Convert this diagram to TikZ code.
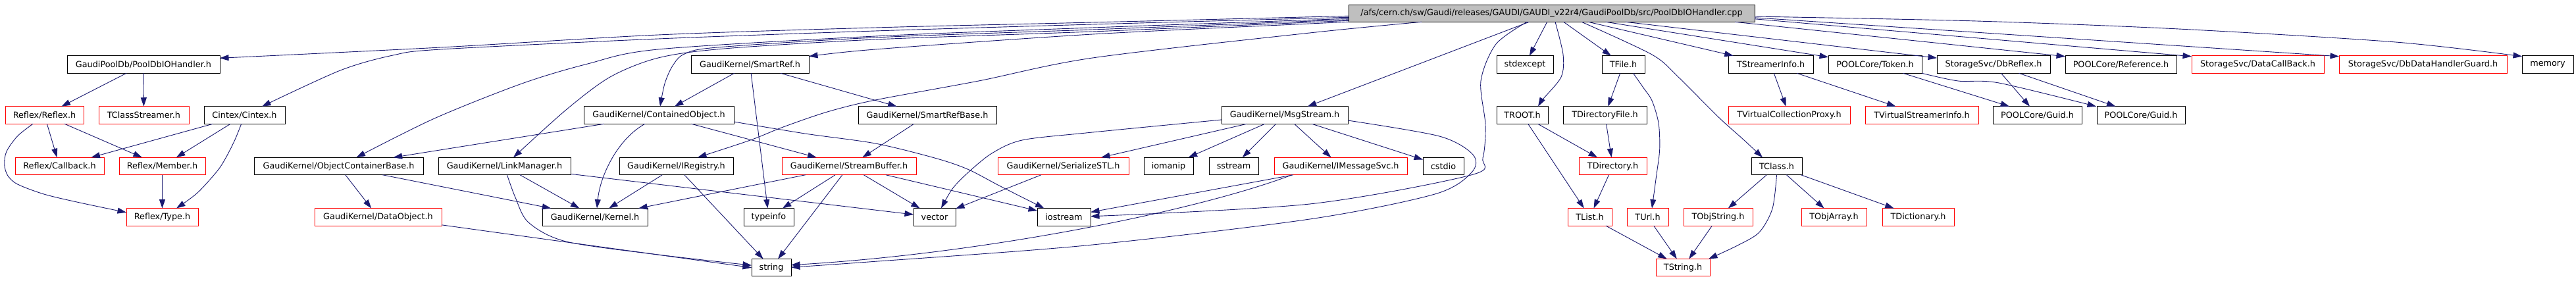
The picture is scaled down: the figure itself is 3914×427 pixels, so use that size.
\documentclass[tikz,border=0pt]{standalone}
\usepackage{fontspec}
\setmainfont{DejaVu Sans}
\usetikzlibrary{arrows.meta}
\definecolor{edgeblue}{HTML}{191970}
\definecolor{rootgray}{HTML}{BFBFBF}
\definecolor{missred}{HTML}{FF0000}
\tikzset{
  fbox/.style={draw=black, line width=1pt, fill=white, inner sep=0pt, outer sep=0pt,
    minimum height=26.5pt, font=\fontsize{12.8}{15}\selectfont, anchor=center},
  rbox/.style={fbox, draw=missred},
  rootbox/.style={fbox, fill=rootgray, minimum height=26pt},
  dep/.style={draw=edgeblue, line width=0.9pt, -{Triangle[length=13.5pt,width=9pt]}},
}
\begin{document}
\begin{tikzpicture}[x=1pt,y=-1pt]
\useasboundingbox (0,0) rectangle (3914,427);
% root
\node[rootbox, minimum width=617pt] (root) at (2357.5,20.3) {/afs/cern.ch/sw/Gaudi/releases/GAUDI/GAUDI\_v22r4/GaudiPoolDb/src/PoolDbIOHandler.cpp};
% row 1
\node[fbox, minimum width=232pt] (pdh) at (218,98) {GaudiPoolDb/PoolDbIOHandler.h};
\node[fbox, minimum width=179pt] (smartref) at (1139.5,98) {GaudiKernel/SmartRef.h};
\node[fbox, minimum width=86pt] (stdexcept) at (2317,98) {stdexcept};
\node[fbox, minimum width=65pt] (tfile) at (2466.5,98) {TFile.h};
\node[fbox, minimum width=129pt] (tsinfo) at (2690.5,98) {TStreamerInfo.h};
\node[fbox, minimum width=142pt] (token) at (2849,98) {POOLCore/Token.h};
\node[fbox, minimum width=172pt] (dbreflex) at (3029,98) {StorageSvc/DbReflex.h};
\node[fbox, minimum width=169pt] (reference) at (3222.5,98) {POOLCore/Reference.h};
\node[rbox, minimum width=201pt] (datacb) at (3430.5,98) {StorageSvc/DataCallBack.h};
\node[rbox, minimum width=255pt] (dbdhg) at (3681.5,98) {StorageSvc/DbDataHandlerGuard.h};
\node[fbox, minimum width=78pt] (memory) at (3871,98) {memory};
% row 2
\node[rbox, minimum width=119pt] (reflex) at (67.5,175) {Reflex/Reflex.h};
\node[rbox, minimum width=137pt] (tcs) at (218.5,175) {TClassStreamer.h};
\node[fbox, minimum width=123pt] (cintex) at (371.5,175) {Cintex/Cintex.h};
\node[fbox, minimum width=228pt] (contobj) at (1001,175) {GaudiKernel/ContainedObject.h};
\node[fbox, minimum width=210pt] (srb) at (1409,175) {GaudiKernel/SmartRefBase.h};
\node[fbox, minimum width=192pt] (msgstream) at (1952,175) {GaudiKernel/MsgStream.h};
\node[fbox, minimum width=78pt] (troot) at (2313,175) {TROOT.h};
\node[fbox, minimum width=127pt] (tdirfile) at (2438.5,175) {TDirectoryFile.h};
\node[rbox, minimum width=185pt] (tvcp) at (2718.5,175) {TVirtualCollectionProxy.h};
\node[rbox, minimum width=172pt] (tvsi) at (2920,175) {TVirtualStreamerInfo.h};
\node[fbox, minimum width=135pt] (guida) at (3095.5,175) {POOLCore/Guid.h};
\node[fbox, minimum width=134pt] (guidb) at (3253,175) {POOLCore/Guid.h};
% row 3
\node[rbox, minimum width=135pt] (callback) at (90.5,252.5) {Reflex/Callback.h};
\node[rbox, minimum width=131pt] (member) at (246.5,252.5) {Reflex/Member.h};
\node[fbox, minimum width=257pt] (ocb) at (514.5,252.5) {GaudiKernel/ObjectContainerBase.h};
\node[fbox, minimum width=201pt] (linkmgr) at (766.5,252.5) {GaudiKernel/LinkManager.h};
\node[fbox, minimum width=173pt] (iregistry) at (1027.5,252.5) {GaudiKernel/IRegistry.h};
\node[rbox, minimum width=204pt] (streambuf) at (1290,252.5) {GaudiKernel/StreamBuffer.h};
\node[rbox, minimum width=199pt] (serstl) at (1615.5,252.5) {GaudiKernel/SerializeSTL.h};
\node[fbox, minimum width=75pt] (iomanip) at (1775.5,252.5) {iomanip};
\node[fbox, minimum width=75pt] (sstream) at (1874.5,252.5) {sstream};
\node[rbox, minimum width=202pt] (imsgsvc) at (2037,252.5) {GaudiKernel/IMessageSvc.h};
\node[fbox, minimum width=62pt] (cstdio) at (2193,252.5) {cstdio};
\node[rbox, minimum width=103pt] (tdirectory) at (2450.5,252.5) {TDirectory.h};
\node[fbox, minimum width=77pt] (tclass) at (2699.5,252.5) {TClass.h};
% row 4
\node[rbox, minimum width=109pt] (type) at (246.5,329.8) {Reflex/Type.h};
\node[rbox, minimum width=193pt] (dataobj) at (574.5,329.8) {GaudiKernel/DataObject.h};
\node[fbox, minimum width=160pt] (kernel) at (904,329.8) {GaudiKernel/Kernel.h};
\node[fbox, minimum width=76pt] (typeinfo) at (1168,329.8) {typeinfo};
\node[fbox, minimum width=64pt] (vector) at (1420,329.8) {vector};
\node[fbox, minimum width=81pt] (iostream) at (1616.5,329.8) {iostream};
\node[rbox, minimum width=67pt] (tlist) at (2415.5,329.8) {TList.h};
\node[rbox, minimum width=63pt] (turl) at (2503.5,329.8) {TUrl.h};
\node[rbox, minimum width=105pt] (tobjstring) at (2610.5,329.8) {TObjString.h};
\node[rbox, minimum width=99pt] (tobjarray) at (2786.5,329.8) {TObjArray.h};
\node[rbox, minimum width=109pt] (tdict) at (2914.5,329.8) {TDictionary.h};
% row 5
\node[fbox, minimum width=60pt] (string) at (1172,406.7) {string};
\node[rbox, minimum width=82pt] (tstring) at (2557,406.7) {TString.h};

% ---- edges from root
\draw[dep] plot[smooth] coordinates {([yshift=-4pt]root.west) (1660,34) (1330,42) (1000,53) (670,72) ([yshift=9.7pt]pdh.east)};
\draw[dep] plot[smooth] coordinates {([yshift=-6pt]root.west) (1660,37) (1330,47) (1000,59) (670,75) (597,84) (517,107) ([xshift=26.5pt]cintex.north)};
\draw[dep] plot[smooth] coordinates {([yshift=-8pt]root.west) (1660,42) (1330,55) (1000,75) (893,97) (793,127) (660,180) ([xshift=27pt]ocb.north)};
\draw[dep] plot[smooth] coordinates {([yshift=-9.5pt]root.west) (1660,45) (1330,57) (1090,72) (1040,82) (1022,100) (1010,127) ([xshift=2pt]contobj.north)};
\draw[dep] plot[smooth] coordinates {([yshift=-11pt]root.west) (1660,48) (1330,60) (1100,74) (1000,88) (927,117) (860,167) ([xshift=13.5pt]linkmgr.north)};
\draw[dep] plot[smooth] coordinates {(root.south west) (1990,36) (1660,52) (1330,75) ([yshift=-1pt]smartref.north east)};
\draw[dep] plot[smooth] coordinates {([xshift=-197.5pt]root.south) (1990,50) (1660,88) (1487,123) (1330,152) (1257,170) (1190,193) (1140,213) ([xshift=32.5pt]iregistry.north)};
\draw[dep] (root) -- (msgstream);
\draw[dep] (root) -- (stdexcept);
\draw[dep] (root) -- (tfile);
\draw[dep] (root) -- (tsinfo);
\draw[dep] (root) -- (token);
\draw[dep] (root) -- (dbreflex);
\draw[dep] ([xshift=-30pt]root.south east) -- ([yshift=-1pt]reference.north west);
\draw[dep] ([yshift=-8.5pt]root.east) -- ([yshift=-1pt]datacb.north west);
\draw[dep] ([yshift=-6.5pt]root.east) -- ([yshift=-1pt]dbdhg.north west);
\draw[dep] plot[smooth] coordinates {([yshift=-4.7pt]root.east) (3003,32) (3310,44) (3640,64) ([yshift=-1pt]memory.north west)};
\draw[dep] plot[smooth] coordinates {([xshift=5.5pt]root.south) (2375,83) (2372,117) (2345,150) ([xshift=24pt]troot.north)};
\draw[dep] plot[smooth] coordinates {([xshift=45.5pt]root.south) (2510,83) (2550,117) (2610,177) (2650,213) ([xshift=-21.5pt]tclass.north)};
\draw[dep] plot[smooth] coordinates {([xshift=-37.5pt]root.south) (2273,67) (2250,123) (2257,190) (2253,240) (2235,266) (1990,310) ([yshift=1pt]iostream.east)};

% ---- left group
\draw[dep] (pdh) -- (reflex);
\draw[dep] (pdh) -- (tcs);
\draw[dep] (reflex) -- (callback);
\draw[dep] (reflex) -- (member);
\draw[dep] plot[smooth] coordinates {([xshift=-17.5pt]reflex.south) (26.7,206.7) (10,230) (6.7,250) (11.7,266.7) (26.7,280) (66.7,295) (116.7,307) ([yshift=7pt]type.west)};
\draw[dep] (cintex) -- (callback);
\draw[dep] (cintex) -- (member);
\draw[dep] plot[smooth] coordinates {([xshift=-4.8pt]cintex.south) (356.7,213) (343,240) (330,260) (300,293) ([xshift=21.5pt]type.north)};
\draw[dep] (member) -- (type);

% ---- Gaudi kernel group
\draw[dep] (smartref) -- (contobj);
\draw[dep] (smartref) -- (typeinfo);
\draw[dep] (smartref) -- (srb);
\draw[dep] (contobj) -- (ocb);
\draw[dep] (contobj) -- (streambuf);
\draw[dep] ([xshift=-21pt]contobj.south) .. controls (940,210) and (912,265) .. ([xshift=3pt]kernel.north);
\draw[dep] plot[smooth] coordinates {([yshift=-10pt]contobj.east) (1223,203) (1330,218) (1420,240) (1470,257) (1520,283) ([xshift=-30pt]iostream.north)};
\draw[dep] (srb) -- (streambuf);
\draw[dep] (ocb) -- (dataobj);
\draw[dep] (ocb) -- (kernel);
\draw[dep] (linkmgr) -- (kernel);
\draw[dep] (linkmgr) -- (vector);
\draw[dep] plot[smooth] coordinates {([xshift=4pt]linkmgr.south) (783,300) (803,338) (860,367) (1000,387) ([yshift=3.5pt]string.west)};
\draw[dep] (iregistry) -- (kernel);
\draw[dep] (iregistry) -- (string);
\draw[dep] (streambuf) -- (kernel);
\draw[dep] (streambuf) -- (typeinfo);
\draw[dep] (streambuf) -- (string);
\draw[dep] (streambuf) -- (vector);
\draw[dep] (streambuf) -- (iostream);
\draw[dep] ([yshift=-12pt]dataobj.east) -- (string.west);
\draw[dep] (serstl) -- (vector);
\draw[dep] (msgstream) -- (serstl);
\draw[dep] (msgstream) -- (iomanip);
\draw[dep] (msgstream) -- (sstream);
\draw[dep] (msgstream) -- (imsgsvc);
\draw[dep] (msgstream) -- (cstdio);
\draw[dep] plot[smooth] coordinates {([yshift=-7pt]msgstream.west) (1650,202) (1553,213) (1507,233) (1470,263) (1447,287) ([xshift=10pt]vector.north)};
\draw[dep] plot[smooth] coordinates {([yshift=-8pt]msgstream.east) (2187,207) (2238,235) (2236,262) (2180,295) (1990,333) (1650,373) (1320,398) ([yshift=0.5pt]string.east)};
\draw[dep] (imsgsvc) -- (iostream);
\draw[dep] ([xshift=-74pt]imsgsvc.south) .. controls (1820,320) and (1500,385) .. ([yshift=4pt]string.east);

% ---- ROOT group
\draw[dep] (tfile) -- (tdirfile);
\draw[dep] plot[smooth] coordinates {([xshift=15pt]tfile.south) (2496.7,133) (2510,153) (2520,187) (2521.7,227) (2516.7,267) ([xshift=6.5pt]turl.north)};
\draw[dep] (troot) -- (tdirectory);
\draw[dep] (troot) -- (tlist);
\draw[dep] (tdirfile) -- (tdirectory);
\draw[dep] (tdirectory) -- (tlist);
\draw[dep] (tlist) -- (tstring);
\draw[dep] (turl) -- (tstring);
\draw[dep] (tobjstring) -- (tstring);
\draw[dep] (tclass) -- (tobjstring);
\draw[dep] (tclass) -- (tobjarray);
\draw[dep] (tclass) -- (tdict);
\draw[dep] plot[smooth] coordinates {(tclass.south) (2693,317) (2673,353) (2640,373) ([xshift=-2pt]tstring.north east)};
\draw[dep] (tsinfo) -- (tvcp);
\draw[dep] (tsinfo) -- (tvsi);

% ---- POOL group
\draw[dep] (token) -- (guida);
\draw[dep] plot[smooth] coordinates {(token.south east) (2975,123) (3037,126) ([xshift=-1pt]guidb.north west)};
\draw[dep] (dbreflex) -- (guida);
\draw[dep] (dbreflex) -- (guidb);
\end{tikzpicture}
\end{document}
